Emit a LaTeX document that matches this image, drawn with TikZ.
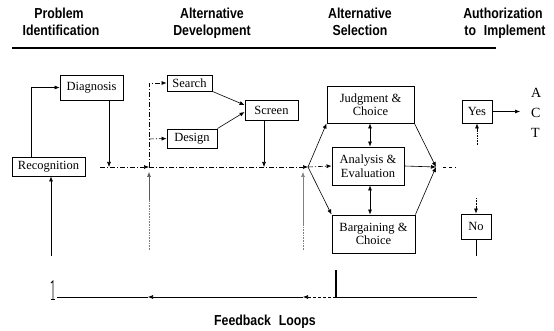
\documentclass[tikz,border=0pt]{standalone}
\usepackage{fontspec}
\setmainfont{Liberation Serif}
\newfontfamily\headfont[FakeStretch=0.85]{Liberation Sans}
\usetikzlibrary{arrows.meta,calc}

\begin{document}
\begin{tikzpicture}[x=1pt,y=-1pt,
  every node/.style={inner sep=0pt},
  blk/.style={draw, line width=0.9pt, align=center,
    font=\fontsize{12.5}{13.5}\selectfont},
  head/.style={anchor=base, font=\headfont\bfseries\fontsize{14.5}{17}\selectfont},
  ln/.style={line width=0.6pt},
  arr/.style={ln, -{Latex[length=5pt,width=4pt]}},
  dbl/.style={ln, {Latex[length=5pt,width=4pt]}-{Latex[length=5pt,width=4pt]}},
  dd/.style={ln, dash pattern=on 5pt off 2pt on 1pt off 2pt},
]
\path[use as bounding box] (0,0) rectangle (554,331);

% column headings and rule
\node[head] (h1a) at (59,19) {Problem};
\node[head] (h1b) at (61,36) {Identification};
\node[head] (h2a) at (212,19) {Alternative};
\node[head] (h2b) at (212,36) {Development};
\node[head] (h3a) at (360,19) {Alternative};
\node[head] (h3b) at (360,36) {Selection};
\node[head] (h4a) at (503,19) {Authorization};
\node[head] (h4b) at (505,36) {to\hspace{0.3em} Implement};
\coordinate (r0) at (12,48);
\coordinate (r1) at (496,48);
\draw[line width=2pt] (r0) -- (r1);

% process boxes
\node[blk, minimum width=73, minimum height=19] (rec) at (48.5,166.5) {Recognition};
\node[blk, minimum width=63, minimum height=25] (diag) at (91.5,87.5) {Diagnosis};
\node[blk, minimum width=45, minimum height=16] (search) at (189.5,83) {Search};
\node[blk, minimum width=50, minimum height=19] (design) at (192,138.5) {Design};
\node[blk, minimum width=53, minimum height=20] (screen) at (271.5,110) {Screen};
\node[blk, minimum width=87, minimum height=37] (judg) at (370.5,104.5) {Judgment \&\\Choice};
\node[blk, minimum width=72, minimum height=38] (anal) at (368,166) {Analysis \&\\Evaluation};
\node[blk, minimum width=83, minimum height=38] (barg) at (373.5,234) {Bargaining \&\\Choice};
\node[blk, minimum width=30, minimum height=23] (yes) at (477,111.5) {Yes};
\node[blk, minimum width=30, minimum height=25] (no) at (476,226.5) {No};
\node[anchor=west, align=left, font=\fontsize{14}{20}\selectfont] (act) at (531,113) {A\\C\\T};

% junction points on the main flow line
\coordinate (h0) at (100,167);
\coordinate (j1) at (149,167);
\coordinate (j2) at (308,167);
\coordinate (j3) at (436,167);
\coordinate (h4) at (456,167);

% problem identification
\draw[arr] ($(rec.north west)+(20,0)$) |- (diag.west);
\coordinate (d1) at (109,167);
\draw[arr] (diag.south -| d1) -- (d1);
\draw[dd, arr] (h0) -- (j1);

% alternative development
\draw[dd, arr] (j1) -- (j2);
\draw[dd, arr] (j1) |- (search.west);
\coordinate (dsg) at (149,139);
\draw[dd, arr] (dsg) -- (design.west);
\draw[arr] (search.south east) -- ($(screen.west)+(0,-5)$);
\draw[arr] (design.north east) -- ($(screen.west)+(0,2)$);
\coordinate (s1) at (264,167);
\draw[arr] (screen.south -| s1) -- (s1);

% alternative selection
\draw[arr] (j2) -- (judg.south west);
\draw[arr] (j2) -- (barg.north west);
\draw[dd, arr] (j2) -- (anal.west);
\draw[arr] (judg.south east) -- (j3);
\draw[arr] (anal.east) -- (j3);
\draw[arr] (barg.north east) -- (j3);
\draw[ln, dashed] ($(j3)+(7,0)$) -- (h4);
\coordinate (vx) at (370,0);
\draw[dbl] (judg.south -| vx) -- (anal.north -| vx);
\draw[dbl] (anal.south -| vx) -- (barg.north -| vx);

% authorization
\coordinate (yesend) at (520,111.5);
\draw[arr] (yes.east) -- (yesend);
\coordinate (ybot) at (477,145);
\draw[ln, densely dotted] (ybot) -- ($(yes.south)+(0,9)$);
\draw[arr] ($(yes.south)+(0,9)$) -- (yes.south);
\coordinate (ntop) at (476,198);
\draw[ln, densely dotted] (ntop) -- ($(no.north)+(0,-8)$);
\draw[arr] ($(no.north)+(0,-8)$) -- (no.north);
\coordinate (nbot) at (476,256);
\draw[ln] (no.south) -- (nbot);

% feedback risers
\coordinate (b1) at (51,256);
\draw[arr] (b1) -- (rec.south -| b1);
\coordinate (b2) at (149,250);
\coordinate (b2m) at (149,200);
\draw[ln, gray, densely dotted] (b2) -- (b2m);
\draw[arr, gray!70!black] (b2m) -- ($(j1)+(0,5)$);
\coordinate (b3) at (303,250);
\coordinate (b3m) at (303,224);
\draw[ln, gray, densely dotted] (b3) -- (b3m);
\draw[arr, gray] (b3m) -- ($(j2)+(-5,5)$);

% feedback loop line
\coordinate (f0) at (57,297);
\coordinate (f1) at (148,297);
\coordinate (f2) at (303,297);
\coordinate (f3) at (336,297);
\coordinate (f4) at (477,297);
\coordinate (f5) at (336,270);
\draw[ln] (f4) -- (f3);
\draw[line width=1.3pt] (f3) -- (f5);
\draw[arr, densely dashed] (f3) -- (f2);
\draw[arr] (f2) -- (f1);
\draw[ln] (f1) -- (f0);
\coordinate (t0) at (53,281);
\coordinate (t1) at (53,299);
\draw[line width=0.9pt] ($(t0)+(-2,2)$) -- (t0) -- (t1);
\draw[line width=0.7pt] ($(t1)+(-2,0)$) -- ($(t1)+(2,0)$);

\node[head] (fb) at (265,325) {Feedback\hspace{0.3em} Loops};
\end{tikzpicture}
\end{document}
